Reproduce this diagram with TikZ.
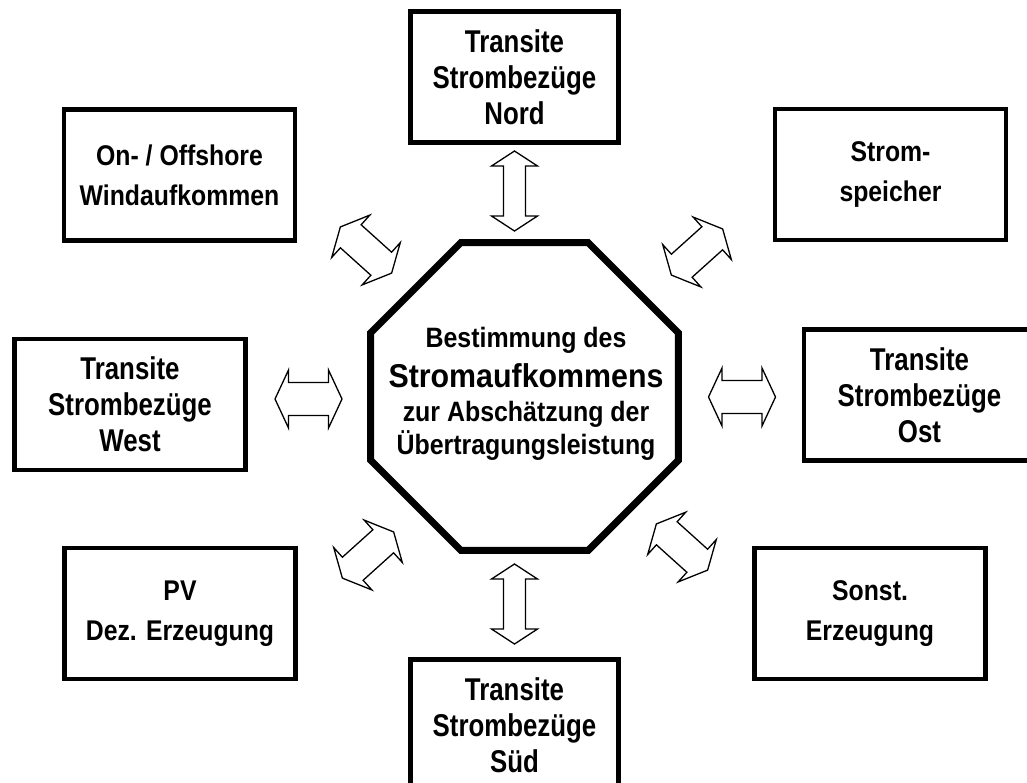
\documentclass[tikz,border=0pt]{standalone}
\usepackage{fontspec}
\setmainfont{Liberation Sans}[FakeStretch=0.87]
\newfontfamily\narrowfont{Liberation Sans}[FakeStretch=0.82]
\newfontfamily\corefont{Liberation Sans}[FakeStretch=0.89]
\newfontfamily\widefont{Liberation Sans}[FakeStretch=0.92]
\usetikzlibrary{shapes.geometric,calc}
\tikzset{
  box/.style={draw, line width=4.5pt, minimum width=231pt, minimum height=131pt,
    align=center, inner sep=0pt, font=\fontsize{28.5}{40}\selectfont\bfseries},
  box3/.style={box, font=\narrowfont\fontsize{31.5}{36}\selectfont\bfseries},
  arr/.style={draw, line width=1.3pt, fill=white, line join=miter},
  pics/dbl/.style args={#1/#2/#3/#4}{code={
    \draw[arr] (-#1,0) -- (-#1+#4,#2) -- (-#1+#4,#3) -- (#1-#4,#3) -- (#1-#4,#2)
      -- (#1,0) -- (#1-#4,-#2) -- (#1-#4,-#3) -- (-#1+#4,-#3) -- (-#1+#4,-#2) -- cycle;
  }}
}
\begin{document}
\begin{tikzpicture}[x=1pt,y=1pt]
\useasboundingbox[fill=white] (0,0) rectangle (1027,-782);
% central octagon
\node[regular polygon, regular polygon sides=8, minimum size=333pt, draw,
  line width=7pt, inner sep=0pt] (oct) at (524.5,-396.5) {};
\node[align=center, inner sep=0pt, font=\corefont\fontsize{28}{33.5}\selectfont\bfseries]
  (core) at (526,-394) {Bestimmung des\\[6.5pt]{\widefont\fontsize{33}{33}\selectfont\bfseries Stromaufkommens}\\zur Abschätzung der\\Übertragungsleistung};
% boxes
\node[box3, minimum width=208pt] (nord) at (514.5,-77) {Transite\\Strombezüge\\Nord};
\node[box3, minimum width=208pt] (sued) at (514.5,-725) {Transite\\Strombezüge\\Süd};
\node[box3] (west) at (130,-404.5) {Transite\\Strombezüge\\West};
\node[box3] (ost) at (919.5,-395) {Transite\\Strombezüge\\Ost};
\node[box] (wind) at (179.5,-175) {On- / Offshore\\Windaufkommen};
\node[box] (speicher) at (890.5,-174.5) {Strom-\\speicher};
\node[box] (pv) at (180,-613.5) {PV\\Dez. Erzeugung};
\node[box] (sonst) at (870,-613.5) {Sonst.\\Erzeugung};
% block double arrows
\coordinate (aN) at (514.5,-191);
\coordinate (aS) at (514.5,-604);
\coordinate (aW) at (308.5,-399);
\coordinate (aO) at (742,-397);
\coordinate (aNW) at (366,-250);
\coordinate (aNE) at (697,-252);
\coordinate (aSW) at (368,-555);
\coordinate (aSE) at (682,-547);
\pic[rotate=90] at (aN) {dbl=40/23/11/15};
\pic[rotate=90] at (aS) {dbl=40/23/11/15};
\pic at (aW) {dbl=33.5/29/16.5/13.5};
\pic at (aO) {dbl=33.5/29/16.5/13.5};
\pic[rotate=-42] at (aNW) {dbl=34.5/28.5/15.5/14};
\pic[rotate=-42] at (aSE) {dbl=34.5/28.5/15.5/14};
\pic[rotate=42] at (aNE) {dbl=34.5/28.5/15.5/14};
\pic[rotate=42] at (aSW) {dbl=34.5/28.5/15.5/14};
\end{tikzpicture}
\end{document}
